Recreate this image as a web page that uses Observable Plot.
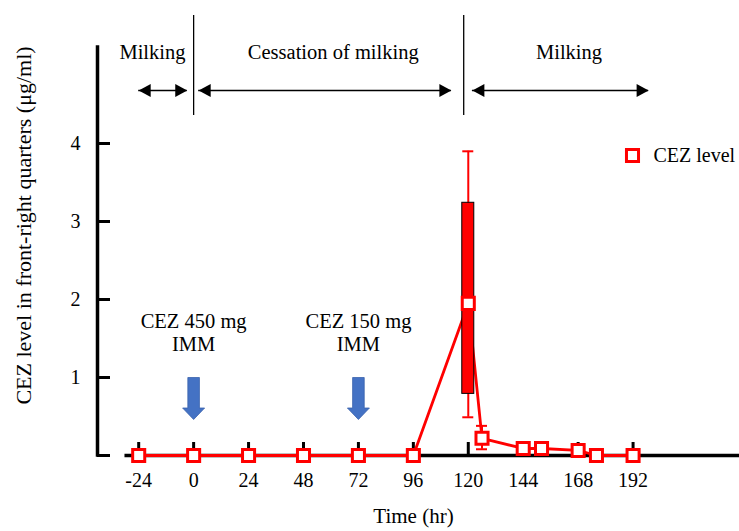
<!DOCTYPE html>
<html>
<head>
<meta charset="utf-8">
<script src="https://cdn.jsdelivr.net/npm/d3@7"></script>
<script src="https://cdn.jsdelivr.net/npm/@observablehq/plot@0.6"></script>
<style>
  html, body { margin: 0; padding: 0; background: #fff; }
  #chart { width: 739px; height: 531px; }
</style>
</head>
<body>
<div id="chart"></div>
<script>
// ---------- data ----------
const hours = [-24, 0, 24, 48, 72, 96, 120, 126, 144, 152, 168, 176, 192];
const cezLevel = [0, 0, 0, 0, 0, 0, 1.95, 0.22, 0.09, 0.09, 0.065, 0, 0];

const errHours = [120, 126];
const errLow = [0.49, 0.08];
const errHigh = [3.9, 0.38];

const boxHours = [120];
const boxLow = [0.79];
const boxHigh = [3.24];

const xTicks = [-24, 0, 24, 48, 72, 96, 120, 144, 168, 192];
const yTicks = [0, 1, 2, 3, 4];
const yTickLabels = ["", "1", "2", "3", "4"];

// phase annotations (top)
const phaseLabels = ["Milking", "Cessation of milking", "Milking"];
const phaseLabelHours = [-18, 61, 164];
const phaseArrowStart = [-24, 2.2, 121.8];
const phaseArrowEnd = [-2.8, 112.6, 198.8];
const phaseDividers = [0, 118];

// dosing annotations
const doseHours = [0, 72];
const doseLabels = ["CEZ 450 mg\nIMM", "CEZ 150 mg\nIMM"];

const legendLabel = "CEZ level";
const xTitle = "Time (hr)";
const yTitle = "CEZ level in front-right quarters (\u03bcg/ml)";

// ---------- layout ----------
const W = 739, H = 531;
const mL = 97, mB = 76, mT = 0, mR = 0;
const xDomain = [-42, 238.5];
const yDomain = [0, (H - mB - mT) / 78];
const kx = (W - mL - mR) / (xDomain[1] - xDomain[0]); // px per hour
const ky = (H - mB - mT) / (yDomain[1] - yDomain[0]); // px per unit
const hx = p => p / kx;  // pixels -> hours
const vy = p => p / ky;  // pixels -> units
const pxToH = p => (p - mL) / kx + xDomain[0]; // pixel column -> hour
const pyToV = p => (H - mB - p) / ky; // pixel row -> value

const red = "#ff0000";
const blue = "#4472c4";
const font = "'Liberation Serif', 'Times New Roman', serif";

const yAxisHour = xDomain[0];

const pts = hours.map((h, i) => ({h, v: cezLevel[i]}));
const errs = errHours.map((h, i) => ({h, lo: errLow[i], hi: errHigh[i]}));
const boxes = boxHours.map((h, i) => ({h, lo: boxLow[i], hi: boxHigh[i]}));
const phases = phaseLabels.map((t, i) => ({t, h: phaseLabelHours[i], a: phaseArrowStart[i], b: phaseArrowEnd[i]}));
const doses = doseHours.map((h, i) => ({h, t: doseLabels[i]}));

// custom symbols
const headRight = {draw(ctx) { ctx.moveTo(0, 0); ctx.lineTo(-12, -6.5); ctx.lineTo(-12, 6.5); ctx.closePath(); }};
const headLeft = {draw(ctx) { ctx.moveTo(0, 0); ctx.lineTo(12, -6.5); ctx.lineTo(12, 6.5); ctx.closePath(); }};
const blueArrow = {draw(ctx) {
  ctx.moveTo(-5.8, 0); ctx.lineTo(5.8, 0); ctx.lineTo(5.8, 30.5);
  ctx.lineTo(11, 30.5); ctx.lineTo(0, 42); ctx.lineTo(-11, 30.5);
  ctx.lineTo(-5.8, 30.5); ctx.closePath();
}};

const phaseArrowY = pyToV(90);
const phaseTextY = pyToV(52);

const chart = Plot.plot({
  width: W, height: H,
  marginLeft: mL, marginRight: mR, marginTop: mT, marginBottom: mB,
  x: {domain: xDomain, axis: null},
  y: {domain: yDomain, axis: null},
  style: {fontFamily: font, fontSize: "20px", color: "#000", background: "#fff"},
  marks: [
    // y axis
    Plot.ruleX([yAxisHour], {y1: 0, y2: pyToV(47), stroke: "#000", strokeWidth: 3.5, strokeLinecap: "square"}),
    Plot.ruleY(yTicks, {y: d => d, x1: yAxisHour, x2: yAxisHour + hx(13), stroke: "#000", strokeWidth: 3}),
    Plot.text(yTicks, {x: yAxisHour, y: d => d, text: (d, i) => yTickLabels[i], dx: -17, textAnchor: "end", fontSize: 20, fill: "#000"}),
    Plot.text([yTitle], {x: yAxisHour, y: pyToV(225), text: d => d, rotate: -90, dx: -74, fontSize: 22, fill: "#000"}),
    // x axis
    Plot.ruleY([0], {x1: -30, x2: xDomain[1], stroke: "#000", strokeWidth: 3.5}),
    Plot.ruleX(xTicks, {x: d => d, y1: 0, y2: vy(13), stroke: "#000", strokeWidth: 3}),
    Plot.text(xTicks, {x: d => d, y: 0, text: d => String(d), dy: 25, fontSize: 20, fill: "#000"}),
    Plot.text([xTitle], {x: pxToH(413), y: 0, text: d => d, dy: 61, fontSize: 21, fill: "#000"}),
    // phase annotations
    Plot.ruleX(phaseDividers, {x: d => d, y1: pyToV(115), y2: pyToV(15), stroke: "#000", strokeWidth: 1.3}),
    Plot.text(phases, {x: "h", y: phaseTextY, text: "t", fontSize: 20.5, fill: "#000"}),
    Plot.ruleY(phases, {x1: "a", x2: "b", y: phaseArrowY, stroke: "#000", strokeWidth: 1.5}),
    Plot.dot(phases, {x: "b", y: phaseArrowY, symbol: headRight, fill: "#000", stroke: "none"}),
    Plot.dot(phases, {x: "a", y: phaseArrowY, symbol: headLeft, fill: "#000", stroke: "none"}),
    // dosing annotations
    Plot.text(doses, {x: "h", y: pyToV(331.5), text: "t", fontSize: 20.5, lineHeight: 1.15, fill: "#000"}),
    Plot.dot(doses, {x: "h", y: pyToV(377), symbol: blueArrow, fill: blue, stroke: "#3a62ad", strokeWidth: 0.8}),
    // data
    Plot.line(pts, {x: "h", y: "v", stroke: red, strokeWidth: 2.8}),
    Plot.ruleX(errs, {x: "h", y1: "lo", y2: "hi", stroke: red, strokeWidth: 2}),
    Plot.ruleY(errs, {y: "lo", x1: d => d.h - hx(5.5), x2: d => d.h + hx(5.5), stroke: red, strokeWidth: 2}),
    Plot.ruleY(errs, {y: "hi", x1: d => d.h - hx(5.5), x2: d => d.h + hx(5.5), stroke: red, strokeWidth: 2}),
    Plot.rect(boxes, {x1: d => d.h - hx(6), x2: d => d.h + hx(6), y1: "lo", y2: "hi", fill: red, stroke: "#000", strokeWidth: 1}),
    Plot.dot(pts, {x: "h", y: "v", symbol: "square", r: 6.8, fill: "#fff", stroke: red, strokeWidth: 3}),
    // legend
    Plot.dot([legendLabel], {x: pxToH(632), y: pyToV(155), symbol: "square", r: 6.8, fill: "#fff", stroke: red, strokeWidth: 3}),
    Plot.text([legendLabel], {x: pxToH(632), y: pyToV(155), text: d => d, dx: 21, textAnchor: "start", fontSize: 20, fill: "#000"})
  ]
});
document.getElementById("chart").appendChild(chart);
</script>
</body>
</html>
